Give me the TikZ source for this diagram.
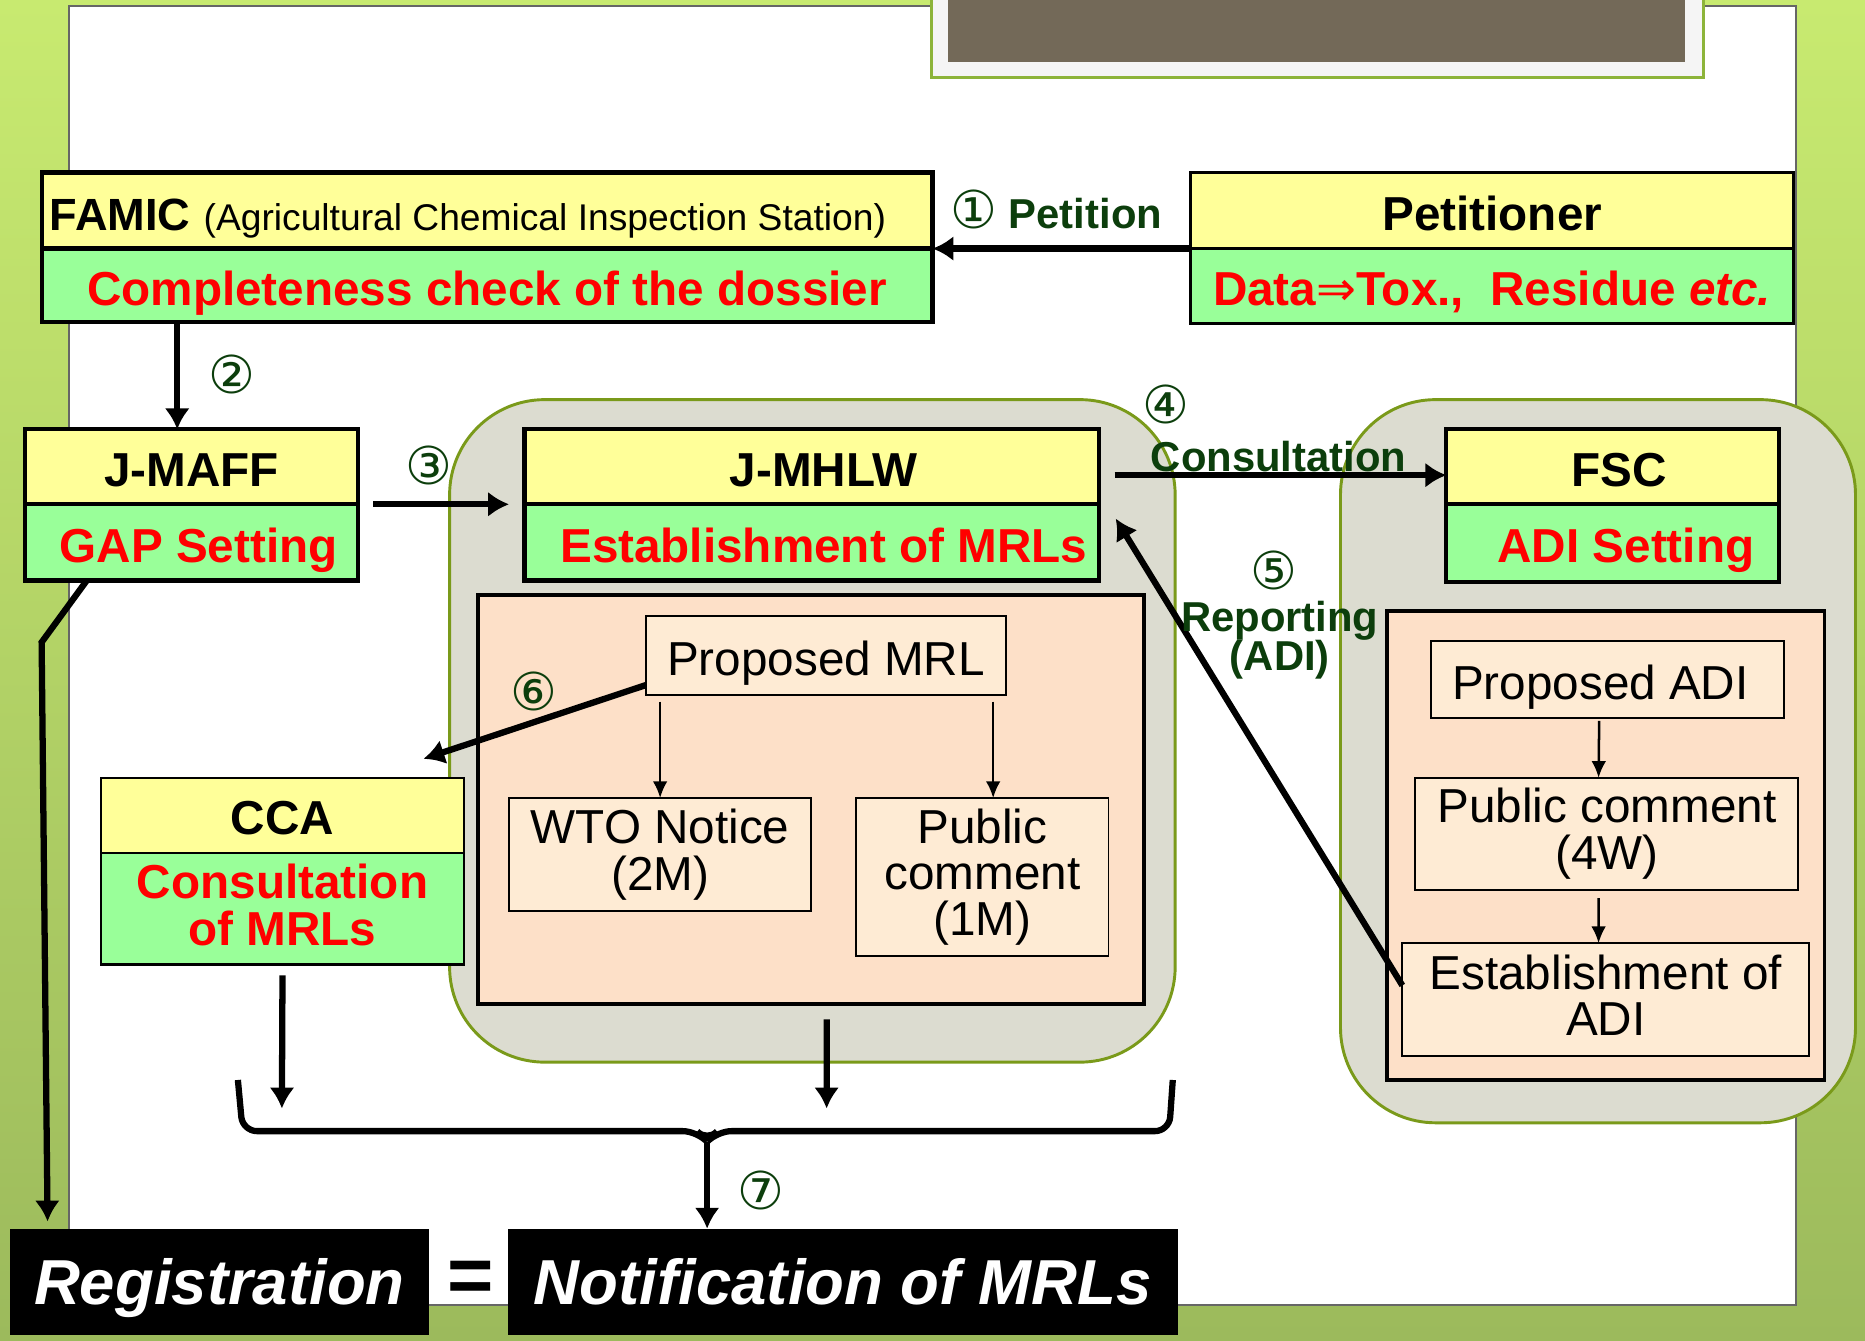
\documentclass[tikz,border=0pt]{standalone}
\usepackage{fontspec}
\setmainfont{Liberation Sans}
\newfontfamily\circfont{DejaVu Sans}
\usetikzlibrary{arrows.meta,positioning}

\definecolor{hdryellow}{HTML}{FFFF99}
\definecolor{bdygreen}{HTML}{99FF99}
\definecolor{lblgreen}{RGB}{12,62,12}
\definecolor{grpfill}{HTML}{DCDCD0}
\definecolor{grpline}{HTML}{7A9A1A}
\definecolor{peach}{HTML}{FDE0C8}
\definecolor{peachlight}{HTML}{FEEBD4}
\definecolor{bgtop}{HTML}{C8EA70}
\definecolor{bgbot}{HTML}{9CBA5C}
\definecolor{titledark}{HTML}{736958}
\definecolor{titleframe}{HTML}{8DB43A}

\newcommand{\circnum}[1]{{\circfont\mdseries\fontsize{12.5}{12.5}\selectfont #1}}

\begin{document}
\begin{tikzpicture}[
		node distance=0pt,
		oneline/.style={text height=9.4pt, text depth=0pt},
		hdr/.style={draw, line width=1pt, fill=hdryellow, inner sep=0pt, outer sep=0pt, oneline, font=\fontsize{11.4}{11.1}\selectfont\bfseries},
		bdymulti/.style={draw, line width=1pt, fill=bdygreen, inner sep=0pt, outer sep=0pt, text=red, align=center, font=\fontsize{11.4}{11.1}\selectfont\bfseries},
		bdy/.style={bdymulti, oneline},
		group/.style={draw=grpline, line width=0.7pt, fill=grpfill, rounded corners=0.8cm, inner sep=0pt, outer sep=0pt},
		pane/.style={draw, line width=0.9pt, fill=peach, inner sep=0pt, outer sep=0pt},
		stepbox/.style={draw, line width=0.45pt, fill=peachlight, inner sep=0pt, outer sep=0pt, align=center, font=\fontsize{11.4}{11.1}\selectfont},
		final/.style={fill=black, text=white, inner sep=0pt, outer sep=0pt, minimum height=0.89cm, text height=10.9pt, text depth=0pt, font=\fontsize{15.2}{15}\selectfont\bfseries\itshape},
		lbl/.style={text=lblgreen, inner sep=0pt, align=center, font=\fontsize{10}{9.4}\selectfont\bfseries},
		arr/.style={-{Latex[length=5pt,width=6pt]}, line width=1.5pt},
		thinarr/.style={-{Latex[length=4pt,width=3.5pt]}, line width=0.6pt},
	]
		\useasboundingbox (0,0) rectangle (15.68,-11.27);
		\shade[top color=bgtop, bottom color=bgbot] (0,0) rectangle (15.68,-11.27);
		\draw[draw=black!60, line width=0.4pt, fill=white] (0.58,-0.05) rectangle (15.10,-10.97);
		\draw[titleframe, line width=0.8pt, fill=black!4] (7.83,0.1) rectangle (14.32,-0.65);
		\fill[titledark] (7.97,0.1) rectangle (14.17,-0.52);

		\node[group, anchor=north west, minimum width=6.10cm, minimum height=5.57cm] (mhlwgrp) at (3.78,-3.36) {};
		\node[group, anchor=north west, minimum width=4.33cm, minimum height=6.08cm] (fscgrp) at (11.27,-3.36) {};
		\node[pane, anchor=north west, minimum width=5.60cm, minimum height=3.44cm] (mrlpane) at (4.02,-5.00) {};
		\node[pane, anchor=north west, minimum width=3.68cm, minimum height=3.94cm] (adipane) at (11.66,-5.14) {};

		\node[hdr, anchor=north west, minimum width=7.49cm, minimum height=0.64cm, text width=7.35cm, align=flush left] (famic) at (0.35,-1.45) {{\fontsize{10.8}{11}\selectfont FAMIC} {\fontsize{8.9}{9}\selectfont\mdseries (Agricultural Chemical Inspection Station)}};
		\node[bdy, below=of famic, minimum width=7.49cm, minimum height=0.62cm] (famicbody) {Completeness check of the dossier};
		\node[hdr, anchor=north west, minimum width=5.07cm, minimum height=0.64cm, line width=0.6pt] (petitioner) at (10.01,-1.45) {Petitioner};
		\node[bdy, below=of petitioner, minimum width=5.07cm, minimum height=0.63cm, line width=0.6pt] (petitionerbody) {Data{\circfont\mdseries ⇒}Tox.,\ \ Residue \textit{etc.}};

		\node[hdr, anchor=north west, minimum width=2.80cm, minimum height=0.63cm] (jmaff) at (0.21,-3.61) {J-MAFF};
		\node[bdy, below=of jmaff, minimum width=2.80cm, minimum height=0.64cm] (jmaffbody) {\hspace{0.12cm}GAP Setting};
		\node[hdr, anchor=north west, minimum width=4.83cm, minimum height=0.63cm] (jmhlw) at (4.41,-3.61) {\hspace{0.2cm}J-MHLW};
		\node[bdy, below=of jmhlw, minimum width=4.83cm, minimum height=0.64cm] (jmhlwbody) {\hspace{0.2cm}Establishment of MRLs};
		\node[hdr, anchor=north west, minimum width=2.80cm, minimum height=0.63cm] (fsc) at (12.16,-3.61) {\hspace{0.1cm}FSC};
		\node[bdy, below=of fsc, minimum width=2.80cm, minimum height=0.65cm] (fscbody) {\hspace{0.22cm}ADI Setting};
		\node[hdr, anchor=north west, minimum width=3.05cm, minimum height=0.63cm, line width=0.6pt] (cca) at (0.85,-6.54) {CCA};
		\node[bdymulti, below=of cca, minimum width=3.05cm, minimum height=0.94cm, line width=0.6pt] (ccabody) {Consultation\\of MRLs\rule[-0.07cm]{0pt}{0pt}};

		\node[stepbox, oneline, minimum width=3.03cm, minimum height=0.66cm] (pmrl) at (6.945,-5.51) {Proposed MRL};
		\node[stepbox, minimum width=2.54cm, minimum height=0.95cm] (wto) at (5.55,-7.185) {WTO Notice\\(2M)};
		\node[stepbox, minimum width=2.12cm, minimum height=1.33cm] (pcmrl) at (8.26,-7.375) {Public\\comment\\(1M)};
		\node[stepbox, oneline, minimum width=2.97cm, minimum height=0.65cm] (padi) at (13.515,-5.715) {Proposed ADI\hspace{0.12cm}};
		\node[stepbox, minimum width=3.22cm, minimum height=0.94cm] (pcadi) at (13.51,-7.01) {Public comment\\(4W)};
		\node[stepbox, minimum width=3.42cm, minimum height=0.95cm] (estadi) at (13.50,-8.405) {Establishment of\\ADI\rule[-0.08cm]{0pt}{0pt}};

		\node[final, anchor=north west, minimum width=3.53cm] (registration) at (0.08,-10.33) {Registration};
		\node[final, anchor=north west, minimum width=5.63cm] (notification) at (4.27,-10.33) {Notification of MRLs};
		\node[inner sep=0pt, font=\fontsize{19}{19}\selectfont\bfseries] (equals) at (3.96,-10.78) {=};

		\coordinate (maffturn) at (0.35,-5.40);
		\coordinate (ccaend) at (2.37,-9.32);
		\coordinate (mhlwend) at (6.95,-9.32);
		\coordinate (bracetip) at (5.945,-9.60);

		\draw[arr] (petitioner.south west) -- (famic.south east);
		\draw[arr] ([xshift=-0.12cm]jmaff.north |- famicbody.south) -- ([xshift=-0.12cm]jmaff.north);
		\draw[arr] ([xshift=0.13cm]jmaff.south east) -- ([xshift=-0.13cm]jmhlw.south west);
		\draw[arr] ([xshift=0.13cm,yshift=-0.07cm]jmhlw.east) -- ([yshift=-0.07cm]fsc.west);
		\draw[arr] ([yshift=0.12cm]estadi.west) -- ([xshift=0.14cm,yshift=0.20cm]jmhlwbody.east);
		\draw[arr] ([yshift=0.08cm]pmrl.south west) -- ([xshift=-0.34cm,yshift=0.16cm]cca.north east);
		\draw[thinarr] ([yshift=-0.06cm]pmrl.south -| wto.north) -- (wto.north);
		\draw[thinarr] ([xshift=0.09cm,yshift=-0.06cm]pmrl.south -| pcmrl.north) -- ([xshift=0.09cm]pcmrl.north);
		\draw[thinarr] ([xshift=-0.07cm,yshift=-0.02cm]padi.south) -- ([xshift=-0.07cm]pcadi.north);
		\draw[thinarr] ([xshift=-0.07cm,yshift=-0.07cm]pcadi.south) -- ([xshift=-0.06cm]estadi.north);
		\draw[arr] ([xshift=0.52cm]jmaffbody.south west) -- (maffturn) -- ([xshift=0.32cm,yshift=0.06cm]registration.north west);
		\draw[arr] ([yshift=-0.09cm]ccabody.south) -- (ccaend);
		\draw[arr] ([xshift=0.13cm,yshift=-0.13cm]mrlpane.south) -- (mhlwend);
		\draw[line width=1.5pt, rounded corners=0.12cm] (2.00,-9.08) -- (2.04,-9.51) -- (5.86,-9.51) -- (bracetip) -- (6.03,-9.51) -- (9.83,-9.51) -- (9.86,-9.08);
		\draw[arr] (bracetip) -- (bracetip |- notification.north);

		\node[lbl] (petitionlbl) at (8.88,-1.76) {\circnum{①} Petition};
		\node[lbl] (n2) at (1.95,-3.15) {\circnum{②}};
		\node[lbl] (n3) at (3.61,-3.91) {\circnum{③}};
		\node[lbl] (n4) at (9.80,-3.40) {\circnum{④}};
		\node[lbl] (consultlbl) at (10.75,-3.84) {Consultation};
		\node[lbl] (n5) at (10.71,-4.80) {\circnum{⑤}};
		\node[lbl] (reportlbl) at (10.76,-5.38) {Reporting\\(ADI)};
		\node[lbl] (n6) at (4.49,-5.81) {\circnum{⑥}};
		\node[lbl] (n7) at (6.40,-10.01) {\circnum{⑦}};
	\end{tikzpicture}
\end{document}
